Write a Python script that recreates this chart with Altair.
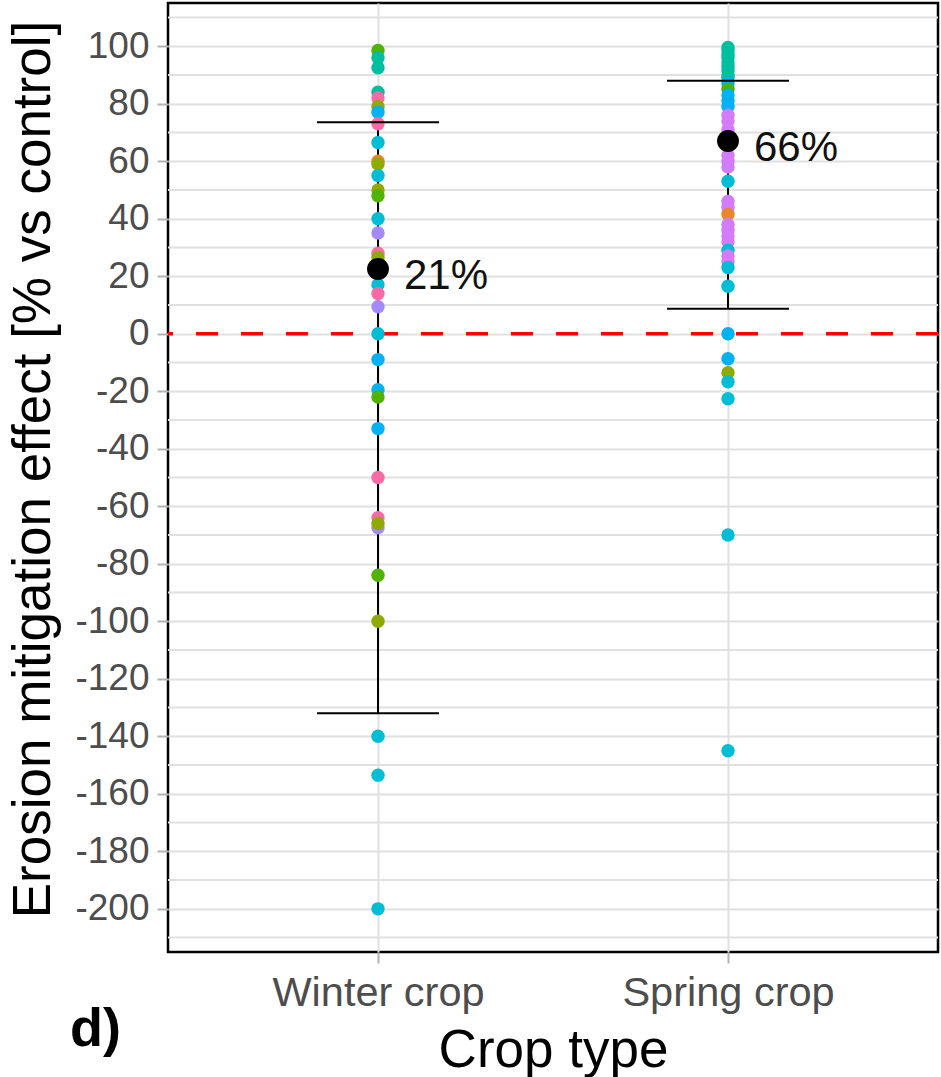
import altair as alt
import pandas as pd

# ---- data ----
crop_order = ["Winter crop", "Spring crop"]

winter_values = [98.5, 96, 92.5, 84, 82, 79, 77, 73, 66.5, 60,
                 59, 55, 50, 48, 40, 35, 28, 26.5, 17, 14,
                 9.4, 0, -9, -19.5, -22, -33, -50, -64, -67.5, -66,
                 -84, -100, -140, -153.5, -200]
winter_groups = ["green", "teal", "teal", "teal", "pink", "olive", "blue", "pink", "cyan", "orange",
                 "olive", "cyan", "olive", "green", "cyan", "purple", "pink", "olive", "cyan", "pink",
                 "purple", "cyan", "blue", "blue", "green", "blue", "pink", "pink", "purple", "olive",
                 "green", "olive", "cyan", "cyan", "cyan"]

spring_values = [99.5, 98.5, 97, 96, 94.5, 93, 91.5, 90, 89,
                 87, 85, 83, 81, 79,
                 76, 74, 71, 69, 65, 62, 60, 58, 53,
                 46, 44, 41.5, 38, 36, 34, 32, 29, 27, 25, 23, 16.5,
                 0, -8.7, -13.6, -16.7, -22.6, -70, -145]
spring_groups = ["teal"] * 9 + \
                ["blue", "green", "blue", "blue", "blue"] + \
                ["violet", "violet", "violet", "violet", "teal", "violet", "violet", "violet", "cyan"] + \
                ["violet", "violet", "orange", "violet", "violet", "violet", "violet", "cyan",
                 "violet", "violet", "cyan", "cyan"] + \
                ["blue", "blue", "olive", "cyan", "cyan", "cyan", "cyan"]

group_names = ["green", "teal", "olive", "cyan", "blue", "pink", "purple", "violet", "orange"]
group_colors = ["#4FB300", "#00BFA0", "#8FAA00", "#00BDD6", "#00B2F3", "#FB6AA5", "#A58AFF", "#D27CF9", "#E8862A"]

mean_values = [22.5, 67]
mean_labels = ["21%", "66%"]
err_low = [-132, 8.7]
err_high = [73.5, 88]

major_ticks = list(range(-200, 101, 20))
minor_grid = list(range(-210, 111, 20))

# ---- tables ----
points = pd.DataFrame({
    "crop": ["Winter crop"] * len(winter_values) + ["Spring crop"] * len(spring_values),
    "value": winter_values + spring_values,
    "group": winter_groups + spring_groups,
})
summary = pd.DataFrame({
    "crop": crop_order,
    "mean": mean_values,
    "label": mean_labels,
    "low": err_low,
    "high": err_high,
})
zero = pd.DataFrame({"y": [0]})
minor_df = pd.DataFrame({"y": minor_grid})

W, H = 770, 949
FONT = "Liberation Sans"

x_enc = alt.X("crop:N", sort=crop_order,
              scale=alt.Scale(type="point", padding=0.6),
              axis=alt.Axis(title="Crop type", labelFontSize=41.5, labelColor="#4D4D4D",
                            labelFont=FONT, titleFont=FONT, labelLimit=0,
                            titleFontSize=53, titleFontWeight="normal", titleColor="black",
                            labelAngle=0, domain=False, tickColor="#B3B3B3", tickWidth=2,
                            tickSize=11, labelPadding=9, grid=True, gridColor="#E0E0E0",
                            gridWidth=2, titleX=385, titleY=98, titleBaseline="middle"))

y_scale = alt.Scale(domain=[-215, 115], nice=False, zero=False)
y_axis = alt.Axis(title="Erosion mitigation effect [% vs control]",
                  values=major_ticks, labelOverlap=False,
                  labelExpr="'' + datum.value",
                  labelFontSize=37, labelColor="#4D4D4D", labelFont=FONT,
                  titleFont=FONT, titleFontSize=53, titleFontWeight="normal",
                  titleColor="black", domain=False, tickColor="#B3B3B3", tickWidth=2,
                  tickSize=11, labelPadding=8,
                  grid=True, gridColor="#E0E0E0", gridWidth=2,
                  titleX=-135, titleY=466, titleBaseline="middle", titleAngle=-90)

minor = alt.Chart(minor_df).mark_rule(color="#E0E0E0", strokeWidth=2).encode(
    y=alt.Y("y:Q", scale=y_scale, axis=y_axis))

hline = alt.Chart(zero).mark_rule(color="#FF0000", strokeWidth=3.5, strokeDash=[22, 23]).encode(
    y=alt.Y("y:Q", scale=y_scale))

vline = alt.Chart(summary).mark_rule(color="black", strokeWidth=2).encode(
    x=x_enc, y=alt.Y("low:Q", scale=y_scale), y2="high:Q")

dots = alt.Chart(points).mark_circle(size=180, opacity=1).encode(
    x=x_enc,
    y=alt.Y("value:Q", scale=y_scale),
    color=alt.Color("group:N", scale=alt.Scale(domain=group_names, range=group_colors), legend=None))

cap_low = alt.Chart(summary).mark_tick(color="black", size=122, thickness=2, opacity=1).encode(
    x=x_enc, y=alt.Y("low:Q", scale=y_scale))
cap_high = alt.Chart(summary).mark_tick(color="black", size=122, thickness=2, opacity=1).encode(
    x=x_enc, y=alt.Y("high:Q", scale=y_scale))

mean_pts = alt.Chart(summary).mark_circle(size=480, color="black", opacity=1).encode(
    x=x_enc, y=alt.Y("mean:Q", scale=y_scale))

mean_txt = alt.Chart(summary).mark_text(align="left", baseline="middle", dx=26, dy=7,
                                        fontSize=42, font=FONT, color="#111111").encode(
    x=x_enc, y=alt.Y("mean:Q", scale=y_scale), text="label:N")

panel = alt.Chart(pd.DataFrame({"t": ["d)"]})).mark_text(
    align="left", baseline="middle", fontSize=54, fontWeight="bold",
    font=FONT, color="black").encode(
    x=alt.value(-98), y=alt.value(1027), text="t:N")

chart = alt.layer(minor, hline, vline, dots, cap_low, cap_high, mean_pts, mean_txt, panel).properties(
    width=W, height=H,
    autosize=alt.AutoSizeParams(type="none"),
    padding={"left": 168, "top": 3, "right": 3, "bottom": 125},
    background="white",
).configure_view(stroke="black", strokeWidth=2.5)

chart.save("out.html", embed_options={"renderer": "svg", "actions": False})
